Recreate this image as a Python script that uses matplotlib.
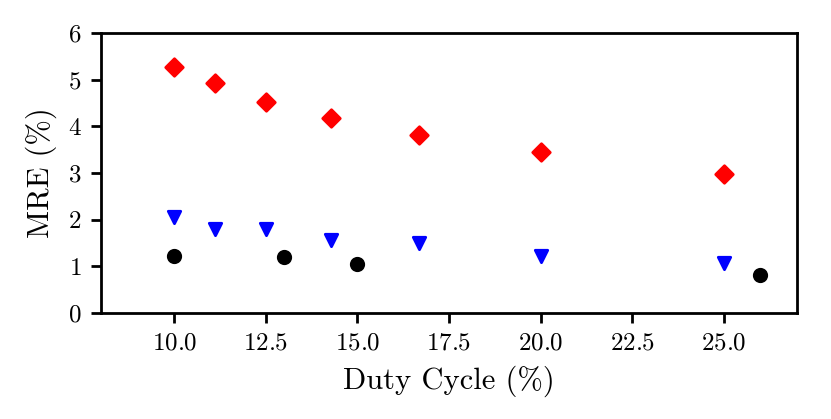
import matplotlib
matplotlib.use("Agg")
import matplotlib.pyplot as plt

plt.rcParams["font.family"] = "serif"
plt.rcParams["font.serif"] = ["cmr10"]
plt.rcParams["mathtext.fontset"] = "cm"
plt.rcParams["axes.formatter.use_mathtext"] = True
plt.rcParams["axes.unicode_minus"] = False

# Diamantes rojos
x_rojo = [10.0, 11.11, 12.5, 14.29, 16.67, 20.0, 25.0]
y_rojo = [5.28, 4.92, 4.52, 4.18, 3.82, 3.46, 2.99]

# Triángulos azules
x_azul = [10.0, 11.11, 12.5, 14.29, 16.67, 20.0, 25.0]
y_azul = [2.06, 1.80, 1.80, 1.56, 1.51, 1.23, 1.07]

# Círculos negros
x_negro = [10.0, 13.0, 15.0, 26.0]
y_negro = [1.23, 1.19, 1.05, 0.81]

fig = plt.figure(figsize=(4.155, 2.095), dpi=200)
ax = fig.add_axes([0.1215, 0.253, 0.8375, 0.668])

ax.scatter(x_rojo, y_rojo, marker="D", c="red", s=20, zorder=3)
ax.scatter(x_azul, y_azul, marker="v", c="blue", s=20, zorder=3)
ax.scatter(x_negro, y_negro, marker="o", c="black", s=20, zorder=3)

ax.set_xlim(8, 27)
ax.set_ylim(0, 6)
ax.set_xticks([10.0, 12.5, 15.0, 17.5, 20.0, 22.5, 25.0])
ax.set_yticks([0, 1, 2, 3, 4, 5, 6])
ax.tick_params(labelsize=9, width=1.0)
for sp in ax.spines.values():
    sp.set_linewidth(1.0)

ax.set_xlabel("Duty Cycle (%)", fontsize=11)
ax.set_ylabel("MRE (%)", fontsize=11)

plt.savefig("out.png", dpi=200)
plt.close()
